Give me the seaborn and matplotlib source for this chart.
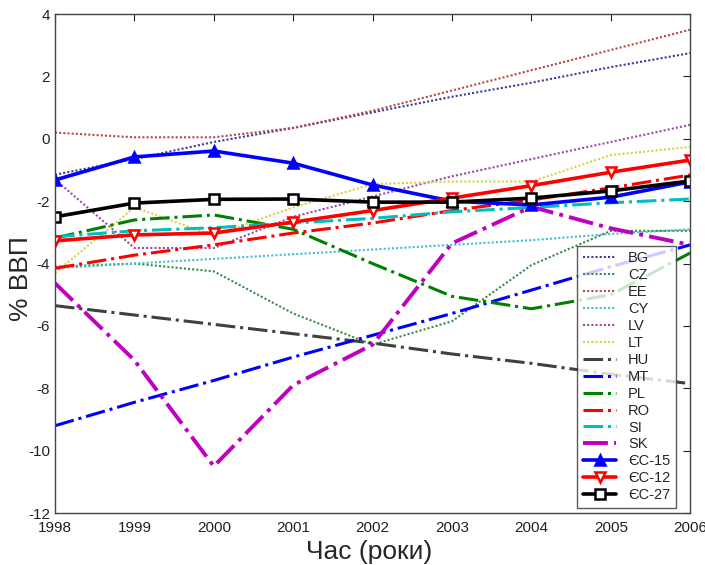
import numpy as np
import pandas as pd
import matplotlib
matplotlib.use('Agg')
import matplotlib.pyplot as plt
import seaborn as sns

years = [1998, 1999, 2000, 2001, 2002, 2003, 2004, 2005, 2006]

bg = [-1.15, -0.65, -0.1, 0.35, 0.85, 1.35, 1.8, 2.3, 2.75]
cz = [-4.1, -4.0, -4.25, -5.6, -6.6, -5.85, -4.05, -2.95, -2.95]
ee = [0.2, 0.05, 0.05, 0.35, 0.9, 1.55, 2.2, 2.85, 3.5]
cy = [-4.15, -4.0, -3.85, -3.7, -3.55, -3.4, -3.25, -3.05, -2.9]
lv = [-1.3, -3.5, -3.5, -2.5, -1.85, -1.2, -0.65, -0.1, 0.45]
lt = [-4.3, -2.2, -3.1, -2.2, -1.45, -1.37, -1.37, -0.52, -0.26]
hu = [-5.35, -5.65, -5.95, -6.25, -6.55, -6.9, -7.2, -7.55, -7.85]
mt = [-9.2, -8.45, -7.75, -7.0, -6.3, -5.6, -4.85, -4.1, -3.4]
pl = [-3.18, -2.6, -2.44, -2.9, -4.0, -5.05, -5.45, -5.0, -3.66]
ro = [-4.15, -3.73, -3.4, -3.02, -2.7, -2.3, -1.96, -1.57, -1.16]
si = [-3.14, -2.95, -2.85, -2.7, -2.55, -2.34, -2.2, -2.05, -1.93]
sk = [-4.63, -7.1, -10.5, -7.9, -6.6, -3.35, -2.18, -2.87, -3.4]
eu15 = [-1.32, -0.58, -0.39, -0.78, -1.48, -2.0, -2.12, -1.87, -1.38]
eu12 = [-3.27, -3.08, -3.02, -2.67, -2.3, -1.9, -1.5, -1.07, -0.68]
eu27 = [-2.5, -2.06, -1.94, -1.93, -2.03, -2.03, -1.9, -1.67, -1.35]

dotted = (0, (1, 1))
# label, values, colour, linestyle, width, marker
series = [
    ('BG', bg, '#3c3c9c', dotted, 1.5, None),
    ('CZ', cz, '#3a8a4a', dotted, 1.5, None),
    ('EE', ee, '#b84848', dotted, 1.5, None),
    ('CY', cy, '#40c0c8', dotted, 1.5, None),
    ('LV', lv, '#a048a8', dotted, 1.5, None),
    ('LT', lt, '#d8d048', dotted, 1.5, None),
    ('HU', hu, '#404040', '-.', 2.2, None),
    ('MT', mt, '#0000ff', '-.', 2.2, None),
    ('PL', pl, '#008000', '-.', 2.2, None),
    ('RO', ro, '#ff0000', '-.', 2.2, None),
    ('SI', si, '#00bfbf', '-.', 2.2, None),
    ('SK', sk, '#bf00bf', '-.', 2.8, None),
    ('ЄС-15', eu15, '#0000ff', '-', 2.6, '^'),
    ('ЄС-12', eu12, '#ff0000', '-', 2.6, 'v'),
    ('ЄС-27', eu27, '#000000', '-', 2.6, 's'),
]

sns.set_style('white')
plt.rcParams['font.family'] = ['Liberation Sans', 'DejaVu Sans']
plt.rcParams['axes.unicode_minus'] = False

fig = plt.figure(figsize=(7.05, 5.65), dpi=100)
ax = fig.add_axes([0.078, 0.092, 0.901, 0.883])

for name, vals, col, ls, lw, mk in series:
    df = pd.DataFrame({'year': years, 'val': vals})
    kw = {}
    if mk is not None:
        face = col if mk == '^' else 'white'
        kw = dict(marker=mk, markersize=7, markeredgecolor=col,
                  markerfacecolor=face, markeredgewidth=1.8)
    sns.lineplot(data=df, x='year', y='val', ax=ax, color=col,
                 linestyle=ls, linewidth=lw, label=name, **kw)

ax.set_xlim(1998, 2006)
ax.set_ylim(-12, 4)
ax.set_xticks(years)
ax.set_yticks(np.arange(-12, 5, 2))
ax.tick_params(direction='in', top=True, right=True, length=5,
               labelsize=11, colors='#222222')
ax.tick_params(axis='x', pad=6)
for s in ax.spines.values():
    s.set_color('#444444')
    s.set_linewidth(1.0)
ax.set_xlabel('Час (роки)', fontsize=19, va='center')
ax.set_ylabel('% ВВП', fontsize=19, va='center')
ax.xaxis.set_label_coords(0.495, -0.078)
ax.yaxis.set_label_coords(-0.054, 0.47)

leg = ax.legend(loc='lower right', bbox_to_anchor=(0.978, 0.01), fontsize=10.5,
                frameon=True, fancybox=False, edgecolor='#333333',
                handlelength=2.3, labelspacing=0.2, borderpad=0.4,
                handletextpad=0.8, borderaxespad=0)
leg.get_frame().set_linewidth(1.0)

fig.savefig('out.png', dpi=100)
